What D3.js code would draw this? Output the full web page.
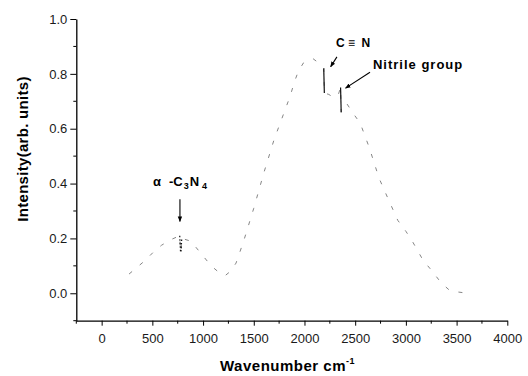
<!DOCTYPE html>
<html>
<head>
<meta charset="utf-8">
<script src="https://cdn.jsdelivr.net/npm/d3@7"></script>
<style>
  body { margin: 0; background: #fff; }
  text { font-family: "Liberation Sans", Arial, sans-serif; }
</style>
</head>
<body>
<svg id="chart" width="528" height="376"></svg>
<script>
// spectrum
const wavenumber = [270, 350, 430, 510, 590, 680, 740, 770, 778, 782, 790, 880, 980, 1080, 1160, 1220, 1270, 1325, 1400, 1500, 1600, 1700, 1800, 1860, 1900, 1940, 1990, 2040, 2085, 2140, 2190, 2196, 2240, 2283, 2330, 2356, 2362, 2380, 2420, 2480, 2550, 2640, 2735, 2830, 2920, 3000, 3063, 3170, 3250, 3348, 3427, 3505, 3590]
const intensity  = [0.07, 0.095, 0.12, 0.15, 0.175, 0.195, 0.205, 0.21, 0.15, 0.15, 0.2, 0.19, 0.145, 0.1, 0.075, 0.065, 0.08, 0.11, 0.19, 0.31, 0.44, 0.56, 0.66, 0.72, 0.77, 0.81, 0.84, 0.85, 0.855, 0.84, 0.82, 0.73, 0.725, 0.715, 0.72, 0.75, 0.66, 0.68, 0.69, 0.656, 0.62, 0.53, 0.42, 0.34, 0.266, 0.226, 0.19, 0.12, 0.085, 0.038, 0.012, 0.005, 0.001]

// sharp bands, [from, to] in cm-1
const bands = [[770, 790], [2190, 2196], [2356, 2362]]

const xTicks = [0, 500, 1000, 1500, 2000, 2500, 3000, 3500, 4000]
const xMinor = [-250, 250, 750, 1250, 1750, 2250, 2750, 3250, 3750]
const yTicks = [0.0, 0.2, 0.4, 0.6, 0.8, 1.0]
const yMinor = [-0.1, 0.1, 0.3, 0.5, 0.7, 0.9]

const data = wavenumber.map((w, i) => ({w: w, v: intensity[i]}))

const svg = d3.select('#chart')

const x = d3.scaleLinear([-250, 4000], [76.3, 507.3])
const y = d3.scaleLinear([-0.1, 1.0], [320.7, 19])

const line = d3.line()
    .x(d => x(d.w))
    .y(d => y(d.v))

// the scan is faint, so the trace comes out broken
svg.append('path')
    .datum(data)
    .attr('d', line)
    .attr('fill', 'none')
    .attr('stroke', '#777')
    .attr('stroke-width', 0.9)
    .attr('stroke-dasharray', '4,10')

svg.selectAll('.band')
    .data(bands)
    .join('path')
    .attr('class', 'band')
    .attr('d', b => line(data.filter(d => d.w >= b[0] && d.w <= b[1])))
    .attr('fill', 'none')
    .attr('stroke', '#111')
    .attr('stroke-width', 1.2)
    .attr('stroke-dasharray', (b, i) => i == 0 ? '1.5,2' : null)

// axes
const xAxis = svg.append('g')
    .attr('transform', `translate(0, ${y(-0.1)})`)
    .call(d3.axisBottom(x).tickValues(xTicks).tickSize(5).tickSizeOuter(0).tickPadding(8).tickFormat(d3.format('d')))
xAxis.selectAll('.minor')
    .data(xMinor)
    .join('line')
    .attr('x1', d => x(d)).attr('x2', d => x(d))
    .attr('y1', 0).attr('y2', 3)
    .attr('stroke', '#000')

const yAxis = svg.append('g')
    .attr('transform', `translate(${x(-250)}, 0)`)
    .call(d3.axisLeft(y).tickValues(yTicks).tickSize(6).tickSizeOuter(0).tickPadding(3).tickFormat(d3.format('.1f')))
yAxis.selectAll('.minor')
    .data(yMinor)
    .join('line')
    .attr('x1', 0).attr('x2', -3)
    .attr('y1', d => y(d)).attr('y2', d => y(d))
    .attr('stroke', '#000')

svg.selectAll('.domain').attr('stroke-width', 1.3)
svg.selectAll('.tick text')
    .attr('font-size', '13px')
    .attr('fill', '#1a1a1a')
    .style('font-family', '"Liberation Sans", Arial, sans-serif')

// axis titles
svg.append('text')
    .attr('x', 220)
    .attr('y', 371)
    .attr('font-size', '15px')
    .attr('font-weight', 'bold')
    .attr('letter-spacing', '0.5px')
    .text('Wavenumber cm')
    .append('tspan')
    .attr('font-size', '9px')
    .attr('dy', -7)
    .text('-1')

svg.append('text')
    .attr('transform', 'translate(28, 149) rotate(-90)')
    .attr('text-anchor', 'middle')
    .attr('font-size', '15px')
    .attr('font-weight', 'bold')
    .attr('letter-spacing', '0.3px')
    .text('Intensity(arb. units)')

// annotations
svg.append('defs').append('marker')
    .attr('id', 'head')
    .attr('viewBox', '0 0 10 10')
    .attr('refX', 9).attr('refY', 5)
    .attr('markerWidth', 5).attr('markerHeight', 5)
    .attr('orient', 'auto')
    .append('path')
    .attr('d', 'M0,1L10,5L0,9Z')
    .attr('fill', '#000')

const arrows = [
    [[772, 0.343], [772, 0.262]],
    [[2320, 0.862], [2258, 0.826]],
    [[2646, 0.806], [2405, 0.748]]
]
svg.selectAll('.arrow')
    .data(arrows)
    .join('line')
    .attr('class', 'arrow')
    .attr('x1', d => x(d[0][0])).attr('y1', d => y(d[0][1]))
    .attr('x2', d => x(d[1][0])).attr('y2', d => y(d[1][1]))
    .attr('stroke', '#000')
    .attr('stroke-width', 1.1)
    .attr('marker-end', 'url(#head)')

const alpha = svg.append('text')
    .attr('x', x(506))
    .attr('y', y(0.39))
    .attr('font-size', '13px')
    .attr('font-weight', 'bold')
alpha.append('tspan').text('α')
alpha.append('tspan').attr('dx', 8).text('-C')
alpha.append('tspan').attr('font-size', '9px').attr('dx', 1).attr('dy', 3).text('3')
alpha.append('tspan').attr('dx', 1).attr('dy', -3).text('N')
alpha.append('tspan').attr('font-size', '9px').attr('dx', 3).attr('dy', 3).text('4')

svg.append('text')
    .attr('x', x(2310))
    .attr('y', y(0.897))
    .attr('font-size', '12px')
    .attr('font-weight', 'bold')
    .style('white-space', 'pre')
    .text('C ≡  N')

svg.append('text')
    .attr('x', x(2675))
    .attr('y', y(0.817))
    .attr('font-size', '13px')
    .attr('font-weight', 'bold')
    .attr('letter-spacing', '1px')
    .text('Nitrile group')
</script>
</body>
</html>
